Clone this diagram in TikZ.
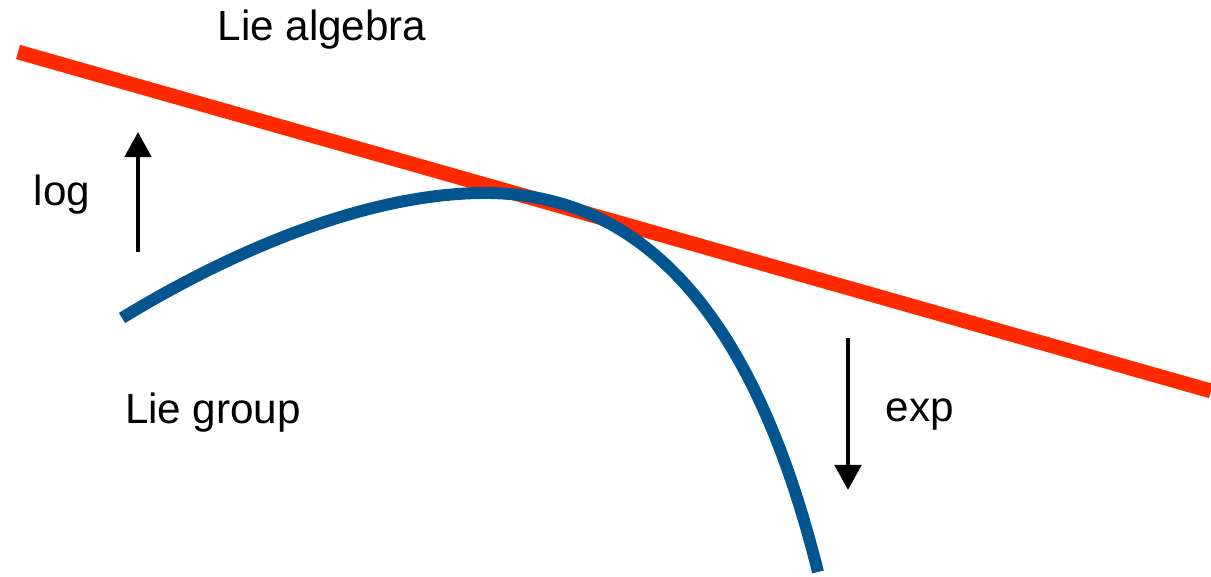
\documentclass[tikz,border=0pt]{standalone}
\usepackage{fontspec}
\setmainfont{Liberation Sans}
\usetikzlibrary{arrows.meta}
\definecolor{LieRed}{HTML}{FF2A00}
\definecolor{LieBlue}{HTML}{03558F}

\begin{document}
\begin{tikzpicture}[x=0.01cm,y=-0.01cm,
    maparrow/.style={line width=1.4pt,-{Triangle[length=0.25cm,width=0.26cm]}},
    lab/.style={font=\fontsize{12}{14}\selectfont,inner sep=0pt}]
    \useasboundingbox (0,0) rectangle (1211,577);
    % tangent space
    \draw[LieRed,line width=4.2pt] (18,52)--(1211,391);
    % group manifold
    \draw[LieBlue,line width=3.4pt]
      (122,318) .. controls (250,240) and (380,193) .. (485,193)
      .. controls (680,193) and (770,380) .. (818,572);
    % maps
    \coordinate (logS) at (138,252);
    \coordinate (logE) at (138,132);
    \coordinate (expS) at (848,338);
    \coordinate (expE) at (848,490);
    \draw[maparrow] (logS)--(logE);
    \draw[maparrow] (expS)--(expE);
    \node[lab] (algebra) at (322,30) {Lie algebra};
    \node[lab] (log) at (62,195) {log};
    \node[lab] (group) at (213,413) {Lie group};
    \node[lab] (exp) at (920,415) {exp};
  \end{tikzpicture}
\end{document}
